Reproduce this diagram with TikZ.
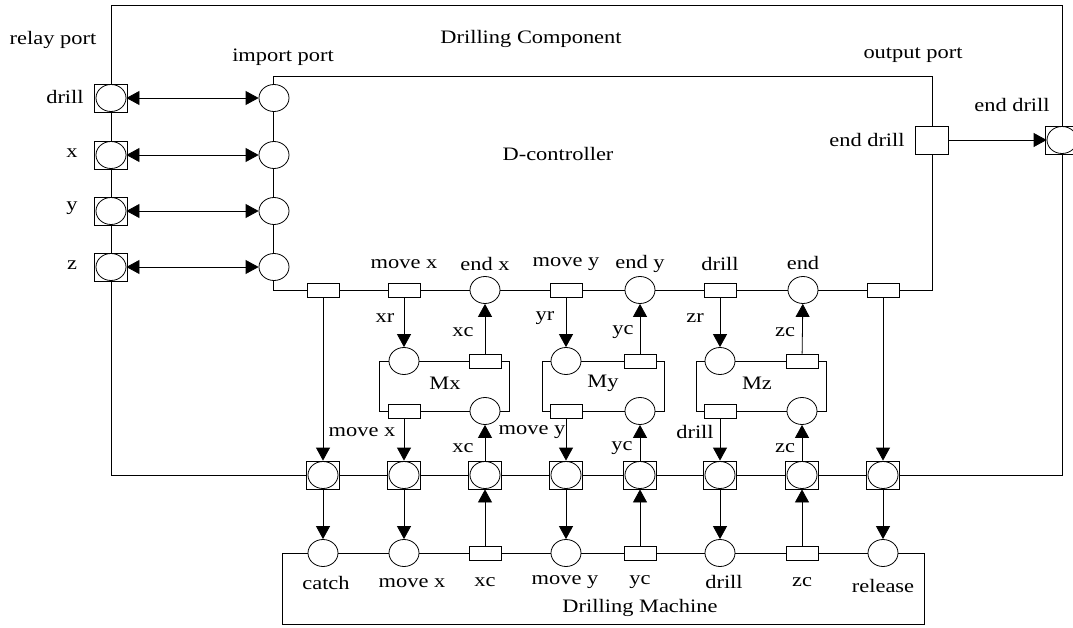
\documentclass[tikz,border=0pt]{standalone}
\usepackage{fontspec}
\setmainfont{Liberation Serif}[FakeStretch=1.18]
\usetikzlibrary{shapes.geometric,arrows.meta}
\begin{document}
\begin{tikzpicture}[x=1pt,y=-1pt,line width=0.8pt,
  circ/.style={ellipse,draw,fill=white,minimum width=30pt,minimum height=27pt,inner sep=0pt},
  trans/.style={rectangle,draw,fill=white,minimum width=32pt,minimum height=14pt,inner sep=0pt},
  rbox/.style={rectangle,draw,fill=white,minimum width=33pt,minimum height=28pt,inner sep=0pt},
  rcirc/.style={ellipse,draw,minimum width=30pt,minimum height=27pt,inner sep=0pt},
  lbl/.style={inner sep=0pt,font=\fontsize{19}{21}\selectfont},
  arr/.style={-{Triangle[length=13pt,width=14pt]}},
  darr/.style={{Triangle[length=13pt,width=14pt]}-{Triangle[length=13pt,width=14pt]}}]
\useasboundingbox (0,0) rectangle (1073,628);
% frames
\draw (111,5) rectangle (1062,475);
\draw (273,76) rectangle (932,290);
\draw (379,361) rectangle (509,411);
\draw (542,361) rectangle (664,411);
\draw (696,361) rectangle (826,411);
\draw (282,553) rectangle (924,624);
% left relay ports and import ports
\foreach \n/\y in {a/98,b/155,c/211,d/267}{
  \node[rbox] (rb\n) at (111,\y) {};
  \node[rcirc] (rc\n) at (111,\y) {};
  \node[circ] (ip\n) at (274,\y) {};
  \draw[darr] (rc\n) -- (ip\n);
}
% output port and right relay port
\node[rbox] (ob) at (932,140) {};
\node[rbox] (rbr) at (1062,140) {};
\node[rcirc] (rcr) at (1062,140) {};
\draw[arr] (ob) -- (rcr);
% controller bottom row
\node[trans] (t0) at (323,290) {};
\node[trans] (tmx) at (404,290) {};
\node[circ] (cex) at (485,290) {};
\node[trans] (tmy) at (566,290) {};
\node[circ] (cey) at (640,290) {};
\node[trans] (tdr) at (720,290) {};
\node[circ] (cend) at (803,290) {};
\node[trans] (t9) at (883,290) {};
% motors
\node[circ] (mxa) at (404,361) {};
\node[trans] (mxb) at (485,361) {};
\node[trans] (mxc) at (404,411) {};
\node[circ] (mxd) at (485,411) {};
\node[circ] (mya) at (566,361) {};
\node[trans] (myb) at (640,361) {};
\node[trans] (myc) at (566,411) {};
\node[circ] (myd) at (640,411) {};
\node[circ] (mza) at (720,361) {};
\node[trans] (mzb) at (802,361) {};
\node[trans] (mzc) at (720,411) {};
\node[circ] (mzd) at (802,411) {};
% bottom relay ports
\foreach \n/\x in {1/323,2/404,3/485,4/566,5/640,6/720,7/802,8/883}{
  \node[rbox] (p\n) at (\x,475) {};
  \node[rcirc] (pc\n) at (\x,475) {};
}
% machine row
\node[circ] (mcat) at (323,553) {};
\node[circ] (mmx) at (404,553) {};
\node[trans] (mxcr) at (485,553) {};
\node[circ] (mmy) at (566,553) {};
\node[trans] (mycr) at (640,553) {};
\node[circ] (mdr) at (720,553) {};
\node[trans] (mzcr) at (802,553) {};
\node[circ] (mrel) at (883,553) {};
% arrows inside controller
\draw[arr] (tmx) -- (mxa);
\draw[arr] (mxb) -- (cex);
\draw[arr] (tmy) -- (mya);
\draw[arr] (myb) -- (cey);
\draw[arr] (tdr) -- (mza);
\draw[arr] (mzb) -- (cend);
% arrows to bottom ports
\draw[arr] (t0) -- (p1);
\draw[arr] (mxc) -- (p2);
\draw[arr] (p3) -- (mxd);
\draw[arr] (myc) -- (p4);
\draw[arr] (p5) -- (myd);
\draw[arr] (mzc) -- (p6);
\draw[arr] (p7) -- (mzd);
\draw[arr] (t9) -- (p8);
% arrows to machine
\draw[arr] (p1) -- (mcat);
\draw[arr] (p2) -- (mmx);
\draw[arr] (mxcr) -- (p3);
\draw[arr] (p4) -- (mmy);
\draw[arr] (mycr) -- (p5);
\draw[arr] (p6) -- (mdr);
\draw[arr] (mzcr) -- (p7);
\draw[arr] (p8) -- (mrel);
% labels
\node[lbl] (l1) at (53,40) {relay port};
\node[lbl] (l2) at (283,57) {import port};
\node[lbl] (l3) at (531,39) {Drilling Component};
\node[lbl] (l4) at (558,154) {D-controller};
\node[lbl] (l5) at (913,55) {output port};
\node[lbl] (l6) at (1012,105) {end drill};
\node[lbl] (l7) at (867,140) {end drill};
\node[lbl] (l8) at (65,97) {drill};
\node[lbl] (l9) at (72,153) {x};
\node[lbl] (l10) at (72,208) {y};
\node[lbl] (l11) at (72,265) {z};
\node[lbl] (l12) at (404,264) {move x};
\node[lbl] (l13) at (485,264) {end x};
\node[lbl] (l14) at (566,264) {move y};
\node[lbl] (l15) at (640,264) {end y};
\node[lbl] (l16) at (720,264) {drill};
\node[lbl] (l17) at (803,263) {end};
\node[lbl] (l18) at (385,318) {xr};
\node[lbl] (l19) at (463,332) {xc};
\node[lbl] (l20) at (545,318) {yr};
\node[lbl] (l21) at (623,332) {yc};
\node[lbl] (l22) at (695,318) {zr};
\node[lbl] (l23) at (785,332) {zc};
\node[lbl] (l24) at (445,383) {Mx};
\node[lbl] (l25) at (603,383) {My};
\node[lbl] (l26) at (757,383) {Mz};
\node[lbl] (l27) at (362,432) {move x};
\node[lbl] (l28) at (463,448) {xc};
\node[lbl] (l29) at (532,432) {move y};
\node[lbl] (l30) at (622,448) {yc};
\node[lbl] (l31) at (695,432) {drill};
\node[lbl] (l32) at (785,448) {zc};
\node[lbl] (l33) at (326,583) {catch};
\node[lbl] (l34) at (412,583) {move x};
\node[lbl] (l35) at (485,582) {xc};
\node[lbl] (l36) at (565,582) {move y};
\node[lbl] (l37) at (640,582) {yc};
\node[lbl] (l38) at (724,582) {drill};
\node[lbl] (l39) at (802,582) {zc};
\node[lbl] (l40) at (883,586) {release};
\node[lbl] (l41) at (640,608) {Drilling Machine};
\end{tikzpicture}
\end{document}
